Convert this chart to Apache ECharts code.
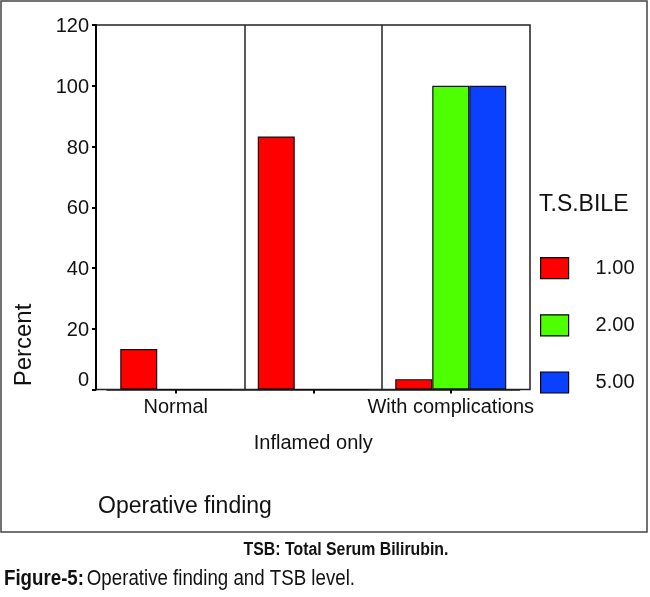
<!DOCTYPE html>
<html>
<head>
<meta charset="utf-8">
<script src="https://cdn.jsdelivr.net/npm/echarts@6/dist/echarts.min.js"></script>
<style>
html, body { margin: 0; padding: 0; background: #fff; }
#chart { width: 650px; height: 597px; }
</style>
</head>
<body>
<div id="chart"></div>
<script>
// ---- data ----
const categories = ['Normal', 'Inflamed only', 'With complications'];
const legendNames = ['1.00', '2.00', '5.00'];
const tsb100 = [13.3, 83.3, 3.4];
const tsb200 = [0, 0, 100];
const tsb500 = [0, 0, 100];
const yTicks = [0, 20, 40, 60, 80, 100, 120];

const colors = ['#ff0000', '#4dff00', '#0a40ff'];
const FONT = "'Liberation Sans', Arial, sans-serif";

const chart = echarts.init(document.getElementById('chart'), null, { renderer: 'canvas' });

const seriesValues = [tsb100, tsb200, tsb500];

const option = {
  backgroundColor: '#ffffff',
  animation: false,
  grid: [
    { left: 96, top: 25, width: 434, height: 364.5, show: true, borderColor: '#222', borderWidth: 1.5, backgroundColor: '#fff' },
    { left: 107, top: 25, width: 412.5, height: 364.5 }
  ],
  xAxis: [
    { gridIndex: 0, type: 'value', show: false, min: 0, max: 1 },
    {
      gridIndex: 1, type: 'category', data: categories,
      axisLine: { show: true, lineStyle: { color: '#222', width: 1.5 } },
      axisTick: { show: true, alignWithLabel: true, length: 4, lineStyle: { color: '#000', width: 2 } },
      axisLabel: {
        interval: 0, margin: 8, color: '#111', fontFamily: FONT, fontSize: 20,
        formatter: function (value, index) {
          return index === 1 ? '{low|' + value + '}' : '{up|' + value + '}';
        },
        rich: {
          up: { fontSize: 20, fontFamily: FONT, color: '#111' },
          low: { fontSize: 20, fontFamily: FONT, color: '#111', padding: [36, 0, 0, 0] }
        }
      },
      splitLine: { show: true, showMinLine: false, showMaxLine: false, lineStyle: { color: '#222', width: 1.5 } }
    }
  ],
  yAxis: [
    {
      gridIndex: 0, type: 'value', min: yTicks[0], max: yTicks[yTicks.length - 1], interval: yTicks[1] - yTicks[0],
      axisLine: { show: true, lineStyle: { color: '#000', width: 2 } },
      axisTick: { show: true, length: 4, lineStyle: { color: '#000', width: 2 } },
      axisLabel: {
        margin: 7, color: '#111', fontFamily: FONT, fontSize: 20,
        formatter: function (v) { return v === 0 ? '{z|0}' : '{n|' + v + '}'; },
        rich: {
          z: { fontSize: 20, fontFamily: FONT, color: '#111', padding: [0, 0, 18, 0] },
          n: { fontSize: 20, fontFamily: FONT, color: '#111', padding: [3, 0, 0, 0] }
        }
      },
      splitLine: { show: false }
    },
    { gridIndex: 1, type: 'value', min: 0, max: 120, show: false, splitLine: { show: false } }
  ],
  legend: {
    orient: 'vertical', left: 535, top: 252,
    itemWidth: 28, itemHeight: 21, itemGap: 35,
    icon: 'rect',
    itemStyle: { borderColor: '#000', borderWidth: 1.2 },
    textStyle: { fontFamily: FONT, fontSize: 20, color: '#111', padding: [0, 0, 0, 22] },
    data: legendNames,
    selectedMode: false
  },
  series: legendNames.map(function (name, i) {
    return {
      name: name, type: 'bar', xAxisIndex: 1, yAxisIndex: 1,
      data: seriesValues[i], barWidth: 37, barGap: '0%',
      itemStyle: { color: colors[i], borderColor: '#111', borderWidth: 1.2 },
      z: 3
    };
  }),
  graphic: [
    { type: 'rect', z: -1, shape: { x: 1, y: 1, width: 646, height: 531 }, style: { fill: 'none', stroke: '#444', lineWidth: 1.5 } },
    { type: 'text', x: 24, y: 345, rotation: Math.PI / 2, style: { text: 'Percent', font: "24px " + FONT, fill: '#111', align: 'center', verticalAlign: 'middle' } },
    { type: 'text', x: 539, y: 205, style: { text: 'T.S.BILE', font: "23px " + FONT, fill: '#111', align: 'left', verticalAlign: 'middle' } },
    { type: 'text', x: 98, y: 507, style: { text: 'Operative finding', font: "23px " + FONT, fill: '#111', align: 'left', verticalAlign: 'middle' } },
    { type: 'text', x: 346, y: 550, scaleX: 0.88, style: { text: 'TSB: Total Serum Bilirubin.', font: "bold 18px " + FONT, fill: '#111', align: 'center', verticalAlign: 'middle' } },
    { type: 'text', x: 4, y: 579, scaleX: 0.85, style: {
        text: '{b|Figure-5:} {r|Operative finding and TSB level.}',
        align: 'left', verticalAlign: 'middle',
        rich: {
          b: { font: "bold 22px " + FONT, fill: '#111' },
          r: { font: "22px " + FONT, fill: '#111' }
        }
      } }
  ]
};

chart.setOption(option);
</script>
</body>
</html>
